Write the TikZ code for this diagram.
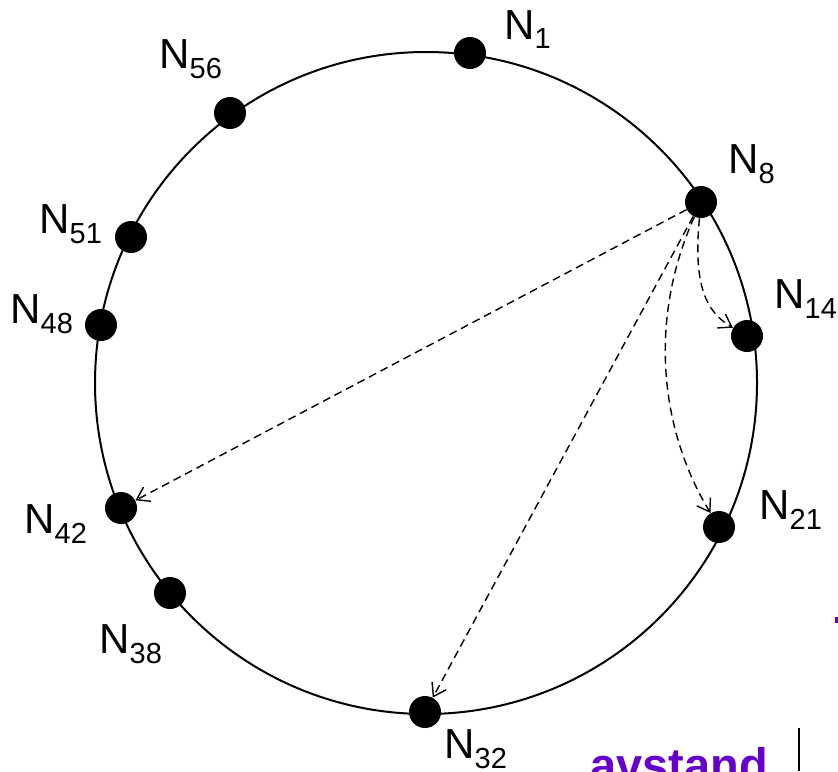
\documentclass[tikz,border=0pt]{standalone}
\usepackage{fontspec}
\setmainfont{Liberation Sans}
\usetikzlibrary{arrows.meta}
\definecolor{avpurple}{HTML}{6600CC}
\newcommand{\lbl}[2]{\fontsize{21}{25}\selectfont #1\raisebox{-5pt}{\fontsize{14.5}{17}\selectfont #2}}
\tikzset{
  dot/.style={circle,fill=black,inner sep=0pt,minimum size=16pt},
  lab/.style={inner sep=0pt,anchor=base west},
  ring/.style={line width=1pt},
  arr/.style={line width=0.7pt,dash pattern=on 4pt off 2.5pt,
    -{Straight Barb[length=6pt,width=8pt,line width=0.7pt]}}
}
\begin{document}
\begin{tikzpicture}[x=0.5pt,y=-0.5pt]
\useasboundingbox (0,0) rectangle (838,771);
\clip (0,0) rectangle (838,771);
% ring
\draw[ring] (426,383) circle [radius=165.5pt];
% nodes
\node[dot] (n1)  at (470,53)  {};
\node[dot] (n56) at (230,113) {};
\node[dot] (n8)  at (701,202) {};
\node[dot] (n51) at (131,237) {};
\node[dot] (n48) at (101,325) {};
\node[dot] (n42) at (121,508) {};
\node[dot] (n38) at (170,593) {};
\node[dot] (n32) at (425,712) {};
\node[dot] (n21) at (719,527) {};
\node[dot] (n14) at (747,336) {};
% labels
\node[lab] (l1)  at (504,39)  {\lbl{N}{1}};
\node[lab] (l56) at (159,68)  {\lbl{N}{56}};
\node[lab] (l8)  at (728,173) {\lbl{N}{8}};
\node[lab] (l14) at (774,308) {\lbl{N}{14}};
\node[lab] (l21) at (759,519) {\lbl{N}{21}};
\node[lab] (l51) at (39,233)  {\lbl{N}{51}};
\node[lab] (l48) at (10,323)  {\lbl{N}{48}};
\node[lab] (l42) at (24,533)  {\lbl{N}{42}};
\node[lab] (l38) at (99,653)  {\lbl{N}{38}};
\node[lab] (l32) at (444,758) {\lbl{N}{32}};
% finger arrows
\draw[arr] (n8) -- (n42);
\draw[arr] (n8) -- (n32);
\draw[arr] (n8) .. controls (693,285) and (706,312) .. (n14);
\draw[arr] (n8) .. controls (648,320) and (660,430) .. (n21);
% cut-off overlay fragments
\node[anchor=base,inner sep=0pt,text=avpurple,font=\bfseries\fontsize{23.5}{28}\selectfont] (av) at (679,781) {avstand};
\fill[avpurple] (835,617) rectangle (838,623);
\coordinate (bar1) at (799,728);
\coordinate (bar2) at (799,771);
\draw[line width=1pt] (bar1) -- (bar2);
\end{tikzpicture}
\end{document}
